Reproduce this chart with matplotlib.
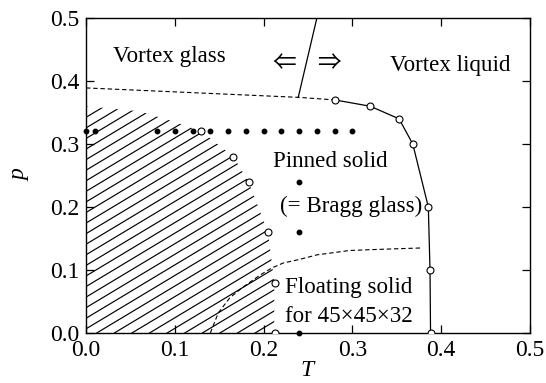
import numpy as np
import matplotlib
matplotlib.use("Agg")
import matplotlib.pyplot as plt
from matplotlib.patches import Polygon

plt.rcParams['font.family'] = ['Liberation Serif', 'DejaVu Serif', 'DejaVu Sans']
plt.rcParams['mathtext.fontset'] = 'custom'

# --- data ---
# filled dots (simulation points)
dots_T = [0.0, 0.01, 0.08, 0.10, 0.12, 0.14, 0.16, 0.18, 0.20, 0.22, 0.24, 0.26, 0.28, 0.30,
          0.24, 0.24, 0.24]
dots_p = [0.32] * 14 + [0.24, 0.16, 0.0]

# open circles on the hatched-region boundary
open_T = [0.13, 0.166, 0.183, 0.205, 0.213, 0.213]
open_p = [0.32, 0.28, 0.24, 0.16, 0.08, 0.0]

# melting line (solid, open circles)
melt_T = [0.280, 0.320, 0.3525, 0.368, 0.3855, 0.3874, 0.388]
melt_p = [0.370, 0.360, 0.340, 0.300, 0.200, 0.100, 0.0]

# upper dashed line (vortex glass boundary)
glass_T = [0.0, 0.24, 0.28]
glass_p = [0.389, 0.374, 0.370]

# solid line separating glass and liquid
sep_T = [0.239, 0.26]
sep_p = [0.374, 0.5]

# lower dashed curve (floating solid boundary)
float_T = [0.140, 0.149, 0.162, 0.177, 0.196, 0.209, 0.222, 0.241, 0.260, 0.297, 0.335, 0.378]
float_p = [0.000, 0.032, 0.056, 0.073, 0.092, 0.103, 0.111, 0.117, 0.124, 0.131, 0.133, 0.135]

# hatched region boundary
hatch_T = [0.0, 0.0, 0.06, 0.10, 0.13, 0.166, 0.183, 0.205, 0.212, 0.212]
hatch_p = [0.0, 0.36, 0.352, 0.335, 0.32, 0.28, 0.24, 0.16, 0.08, 0.0]

ticks = [0.0, 0.1, 0.2, 0.3, 0.4, 0.5]
tick_labels = ['0.0', '0.1', '0.2', '0.3', '0.4', '0.5']

W_PX, H_PX = 546, 383
fig = plt.figure(figsize=(W_PX / 100, H_PX / 100), dpi=100)
ax_l, ax_r, ax_b, ax_t = 86, 530, 50, 365  # pixel box
ax = fig.add_axes([ax_l / W_PX, ax_b / H_PX, (ax_r - ax_l) / W_PX, (ax_t - ax_b) / H_PX])
ax.set_xlim(0, 0.5)
ax.set_ylim(0, 0.5)

# hatched region: manual hatch lines clipped to polygon
poly = Polygon(np.column_stack([hatch_T, hatch_p]), closed=True,
               facecolor='none', edgecolor='none', transform=ax.transData)
ax.add_patch(poly)
aw = ax_r - ax_l
ah = ax_t - ax_b
ang = np.deg2rad(31)
spacing = 17.6
x0 = 10.7
L = 700
for k in range(-30, 30):
    xb = x0 + k * spacing
    xs = np.array([xb, xb + L * np.cos(ang)]) / aw
    ys = np.array([0, L * np.sin(ang)]) / ah
    ln, = ax.plot(xs, ys, color='black', lw=0.85, transform=ax.transAxes)
    ln.set_clip_path(poly)

dash = (0, (4, 2.5))
ax.plot(glass_T, glass_p, color='black', lw=0.8, linestyle=dash)
ax.plot(float_T, float_p, color='black', lw=0.8, linestyle=dash)
ax.plot(sep_T, sep_p, color='black', lw=0.9)
ax.plot(melt_T, melt_p, color='black', lw=0.9, marker='o', markersize=5,
        markerfacecolor='white', markeredgewidth=0.8, zorder=4)
ax.plot(open_T, open_p, linestyle='none', marker='o', markersize=5,
        markerfacecolor='white', markeredgecolor='black', markeredgewidth=0.8, zorder=4)
ax.plot(dots_T, dots_p, linestyle='none', marker='o', markersize=3.2,
        color='black', zorder=5, clip_on=False)

fs = 16.6
ax.text(0.0304, 0.430, 'Vortex glass', fontsize=fs, ha='left', va='baseline')
ax.text(0.342, 0.416, 'Vortex liquid', fontsize=fs, ha='left', va='baseline')
ax.text(0.2106, 0.264, 'Pinned solid', fontsize=fs, ha='left', va='baseline')
ax.text(0.218, 0.1925, '(= Bragg glass)', fontsize=fs, ha='left', va='baseline')
ax.text(0.224, 0.063, 'Floating solid', fontsize=fs, ha='left', va='baseline')
ax.text(0.224, 0.018, 'for 45\u00d745\u00d732', fontsize=fs, ha='left', va='baseline')
arrow_font = ['Noto Sans CJK JP', 'DejaVu Serif']
ax.text(0.223, 0.428, '\u21d0', fontsize=17, ha='center', va='center', family=arrow_font)
ax.text(0.273, 0.428, '\u21d2', fontsize=17, ha='center', va='center', family=arrow_font)

ax.set_xticks(ticks)
ax.set_xticklabels(tick_labels)
ax.set_yticks(ticks)
ax.set_yticklabels(tick_labels)
ax.tick_params(direction='in', top=True, right=True, length=6, width=0.9,
               labelsize=17, pad=5)
for s in ax.spines.values():
    s.set_linewidth(1.0)

fig.text(307 / W_PX, 1.5 / H_PX, 'T', fontsize=17, fontstyle='italic', ha='center', va='bottom')
ax.set_ylabel('p', fontsize=17, fontstyle='italic', labelpad=14)

fig.savefig('out.png', dpi=100)
